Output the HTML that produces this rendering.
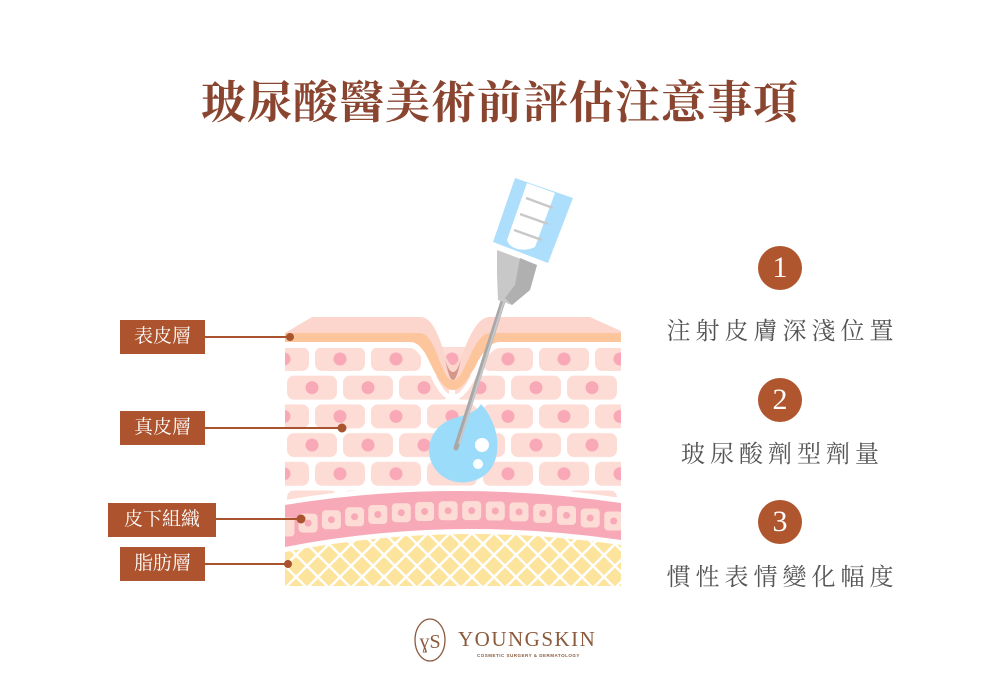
<!DOCTYPE html>
<html><head><meta charset="utf-8"><style>
html,body{margin:0;padding:0;background:#fff;}
body{width:1000px;height:700px;position:relative;overflow:hidden;font-family:"Liberation Serif","Noto Serif CJK SC",serif;}
.title{position:absolute;left:0;top:66px;width:1000px;text-align:center;font-size:45px;font-weight:700;color:#8a4530;letter-spacing:1px;}
.lbl{position:absolute;background:#ad532e;color:#fff;font-size:19px;text-align:center;line-height:34px;height:34px;}
.num{position:absolute;width:44px;height:44px;border-radius:50%;background:#b0562f;color:#fff;font-size:30px;text-align:center;line-height:44px;}
.item{position:absolute;left:640px;width:280px;text-align:center;font-size:24px;color:#555;letter-spacing:5px;text-indent:5px;}
</style></head><body>
<div class="title">玻尿酸醫美術前評估注意事項</div>

<svg width="1000" height="700" style="position:absolute;left:0;top:0">
<defs>
<pattern id="cells" patternUnits="userSpaceOnUse" x="312" y="347" width="56" height="57.4">
 <rect x="3" y="0" width="50" height="24" rx="7" fill="#fddcd5"/>
 <circle cx="28" cy="12" r="6.5" fill="#f9a8b8"/>
 <rect x="-25" y="28.7" width="50" height="24" rx="7" fill="#fddcd5"/>
 <rect x="31" y="28.7" width="50" height="24" rx="7" fill="#fddcd5"/>
 <circle cx="0" cy="40.7" r="6.5" fill="#f9a8b8"/>
 <circle cx="56" cy="40.7" r="6.5" fill="#f9a8b8"/>
</pattern>
<pattern id="fat" patternUnits="userSpaceOnUse" x="285" y="500" width="22" height="22">
 <rect width="22" height="22" fill="#fde49c"/>
 <path d="M0,0 L22,22 M22,0 L0,22" stroke="#fff" stroke-width="2.5"/>
</pattern>
<clipPath id="skin"><rect x="285" y="310" width="336" height="276"/></clipPath>
</defs>
<g clip-path="url(#skin)">
 <rect x="285" y="343" width="336" height="170" fill="url(#cells)"/>
 <path d="M285,560 L285,548 Q450,515 621,540 L621,590 L285,590 Z" fill="#fff"/>
 <path d="M285,552 Q450,520 621,545 L621,590 L285,590 Z" fill="url(#fat)"/>
 <path d="M285,500 Q450,472 621,498 L621,543 Q450,518 285,550 Z" fill="#fff"/>
 <path d="M285,505 Q450,478 621,503 L621,540 Q450,515 285,547 Z" fill="#f7a9b7"/>
 <g fill="#fddcd5">
  <rect x="298.6" y="513.6" width="19" height="19" rx="4"/><rect x="321.9" y="510.2" width="19" height="19" rx="4"/>
  <rect x="345.1" y="507.3" width="19" height="19" rx="4"/><rect x="368.3" y="505" width="19" height="19" rx="4"/>
  <rect x="391.8" y="503.2" width="19" height="19" rx="4"/><rect x="415.1" y="502" width="19" height="19" rx="4"/>
  <rect x="438.6" y="501.3" width="19" height="19" rx="4"/><rect x="462.2" y="501.1" width="19" height="19" rx="4"/>
  <rect x="485.8" y="501.5" width="19" height="19" rx="4"/><rect x="509.5" y="502.4" width="19" height="19" rx="4"/>
  <rect x="533.2" y="503.9" width="19" height="19" rx="4"/><rect x="557" y="505.9" width="19" height="19" rx="4"/>
  <rect x="580.7" y="508.5" width="19" height="19" rx="4"/><rect x="604.2" y="511.5" width="19" height="19" rx="4"/>
  <rect x="275.5" y="517.5" width="19" height="19" rx="4"/>
 </g>
 <g fill="#f7a9b7">
  <circle cx="308.1" cy="523.1" r="3.5"/><circle cx="331.4" cy="519.7" r="3.5"/><circle cx="354.6" cy="516.8" r="3.5"/>
  <circle cx="377.8" cy="514.5" r="3.5"/><circle cx="401.3" cy="512.7" r="3.5"/><circle cx="424.6" cy="511.5" r="3.5"/>
  <circle cx="448.1" cy="510.8" r="3.5"/><circle cx="471.7" cy="510.6" r="3.5"/><circle cx="495.3" cy="511" r="3.5"/>
  <circle cx="519" cy="511.9" r="3.5"/><circle cx="542.7" cy="513.4" r="3.5"/><circle cx="566.5" cy="515.4" r="3.5"/>
  <circle cx="590.2" cy="518" r="3.5"/><circle cx="613.7" cy="521" r="3.5"/>
 </g>
 <path d="M285,342 L410,342 C430,342 436,395 453,395 C470,395 478,342 500,342 L621,342 L621,348 L500,348 C482,348 474,400 453,400 C432,400 426,348 410,348 L285,348 Z" fill="#fff"/>
 <path d="M285,333 L420,333 C440,333 440,380 453,380 C466,380 470,333 490,333 L621,333 L621,342 L500,342 C478,342 472,390 453,390 C434,390 430,342 410,342 L285,342 Z" fill="#fdc59c"/>
 <path d="M285,333 L312,317 L420,317 C440,317 443,365 453,365 C463,365 470,317 490,317 L590,317 L621,331 L621,333 L490,333 C473,333 465,380 453,380 C441,380 436,333 420,333 Z" fill="#fcd6cc"/>
 <path d="M445,360 C448,372 450,380 453,380 C456,380 458,372 461,360 C458,368 456,372 453,372 C450,372 448,368 445,360Z" fill="#d4978a"/>
</g>
<path d="M481,404 C500,425 502,455 490,470 C478,485 450,488 436,470 C422,452 430,425 455,418 C468,414 476,412 481,404 Z" fill="#9cdcfb"/>
<circle cx="482" cy="445" r="7" fill="#fff"/><circle cx="478" cy="464" r="5" fill="#fff"/>
<line x1="504" y1="298" x2="456" y2="448" stroke="#a8a8a8" stroke-width="5" stroke-linecap="round"/>
<line x1="505" y1="298" x2="459" y2="444" stroke="#c8c8c8" stroke-width="2"/>
<polygon points="497,250 537,265 530,290 512,305 498,300 497,275" fill="#c8c8c8"/>
<polygon points="520,258 537,265 530,290 512,305 505,298 515,285" fill="#b0b0b0"/>
<polygon points="515,178 573,198 548,263 493,242" fill="#addffd"/>
<path d="M527,183 L555,193 L535,247 C525,252 510,250 507,240 Z" fill="#fff"/>
<g stroke="#c8c8c8" stroke-width="2.5"><line x1="526" y1="198" x2="553" y2="208"/><line x1="520" y1="214" x2="548" y2="224"/><line x1="514" y1="230" x2="542" y2="240"/></g>
<g stroke="#a9542e" stroke-width="2" fill="#a9542e">
 <line x1="205" y1="337" x2="290" y2="337"/><circle cx="290" cy="337" r="3"/>
 <line x1="205" y1="428" x2="342" y2="428"/><circle cx="342" cy="428" r="3.5"/>
 <line x1="216" y1="519" x2="301" y2="519"/><circle cx="301" cy="519" r="3.5"/>
 <line x1="205" y1="564" x2="288" y2="564"/><circle cx="288" cy="564" r="3"/>
</g>
<ellipse cx="430" cy="640" rx="15" ry="21" fill="none" stroke="#8b5a3c" stroke-width="1.3"/>
<text x="430" y="648" font-family="Liberation Serif,serif" font-size="20" fill="#8b5a3c" text-anchor="middle">ɣS</text>
<text x="458" y="646" font-family="Liberation Serif,serif" font-size="21" fill="#8b5a3c" letter-spacing="1.5">YOUNGSKIN</text>
<text x="477" y="657" font-family="Liberation Sans,sans-serif" font-size="4.5" fill="#8b5a3c" font-weight="700" letter-spacing="0.5">COSMETIC SURGERY &amp; DERMATOLOGY</text>
</svg>

<div class="lbl" style="left:120px;top:320px;width:85px">表皮層</div>
<div class="lbl" style="left:120px;top:411px;width:85px">真皮層</div>
<div class="lbl" style="left:108px;top:503px;width:108px">皮下組織</div>
<div class="lbl" style="left:120px;top:547px;width:85px">脂肪層</div>

<div class="num" style="left:758px;top:246px">1</div>
<div class="item" style="top:311px">注射皮膚深淺位置</div>
<div class="num" style="left:758px;top:378px">2</div>
<div class="item" style="top:434px">玻尿酸劑型劑量</div>
<div class="num" style="left:758px;top:500px">3</div>
<div class="item" style="top:557px">慣性表情變化幅度</div>
</body></html>
